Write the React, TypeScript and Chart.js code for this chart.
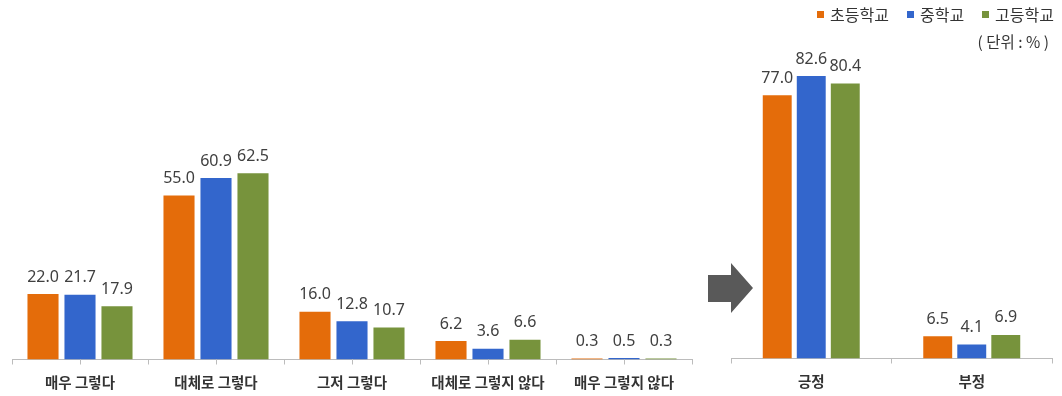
import React, { useEffect, useRef } from "react";
import { Chart, registerables } from "chart.js";

Chart.register(...registerables);

const leftCategories = ["매우 그렇다", "대체로 그렇다", "그저 그렇다", "대체로 그렇지 않다", "매우 그렇지 않다"];
const leftElementary = [22.0, 55.0, 16.0, 6.2, 0.3];
const leftMiddle = [21.7, 60.9, 12.8, 3.6, 0.5];
const leftHigh = [17.9, 62.5, 10.7, 6.6, 0.3];

const rightCategories = ["긍정", "부정"];
const rightElementary = [77.0, 6.5];
const rightMiddle = [82.6, 4.1];
const rightHigh = [80.4, 6.9];

const seriesNames = ["초등학교", "중학교", "고등학교"];
const seriesColors = ["#E46C0A", "#3366CC", "#77933C"];
const unitLabel = "( 단위 : % )";

const FONT = "'Noto Sans CJK KR', 'Noto Sans', sans-serif";
const AXIS_COLOR = "#bcbcbc";

const valueLabels = {
  id: "valueLabels",
  afterDatasetsDraw(chart: any) {
    const ctx = chart.ctx;
    ctx.save();
    ctx.font = `16px 'Noto Sans', ${FONT}`;
    ctx.fillStyle = "#404040";
    ctx.textAlign = "center";
    ctx.textBaseline = "middle";
    chart.data.datasets.forEach((ds: any, i: number) => {
      const meta = chart.getDatasetMeta(i);
      meta.data.forEach((el: any, j: number) => {
        const v = ds.data[j] as number;
        ctx.fillText(v.toFixed(1), el.x, el.y - 17);
      });
    });
    ctx.restore();
  },
};

const centerTicks = {
  id: "centerTicks",
  afterDraw(chart: any) {
    const x = chart.scales.x;
    const ctx = chart.ctx;
    ctx.save();
    ctx.strokeStyle = AXIS_COLOR;
    ctx.lineWidth = 1;
    for (let i = 0; i < x.ticks.length; i++) {
      const px = Math.round(x.getPixelForTick(i)) + 0.5;
      ctx.beginPath();
      ctx.moveTo(px, x.top);
      ctx.lineTo(px, x.top + 5);
      ctx.stroke();
    }
    ctx.restore();
  },
};

function makeConfig(
  categories: string[],
  series: number[][],
  padding: { left: number; right: number; top: number; bottom: number },
  catPct: number,
  barPct: number,
  extraPlugins: any[]
): any {
  return {
    type: "bar",
    data: {
      labels: categories,
      datasets: series.map((d, i) => ({
        label: seriesNames[i],
        data: d,
        backgroundColor: seriesColors[i],
        borderWidth: 0,
        categoryPercentage: catPct,
        barPercentage: barPct,
      })),
    },
    options: {
      responsive: false,
      animation: false,
      devicePixelRatio: 1,
      layout: { padding },
      plugins: {
        legend: { display: false },
        title: { display: false },
        tooltip: { enabled: false },
      },
      scales: {
        x: {
          grid: {
            display: true,
            drawOnChartArea: false,
            offset: true,
            tickLength: 5,
            color: AXIS_COLOR,
          },
          border: { display: true, color: AXIS_COLOR, width: 1 },
          ticks: {
            autoSkip: false,
            maxRotation: 0,
            padding: 11,
            color: "#333333",
            font: { size: 14.5, weight: "bold", family: FONT, lineHeight: 1 },
          },
        },
        y: { display: false, min: 0, max: 100 },
      },
    },
    plugins: [valueLabels, ...extraPlugins],
  };
}

export default function App() {
  const leftRef = useRef<HTMLCanvasElement | null>(null);
  const rightRef = useRef<HTMLCanvasElement | null>(null);

  useEffect(() => {
    const left = new Chart(
      leftRef.current as HTMLCanvasElement,
      makeConfig(
        leftCategories,
        [leftElementary, leftMiddle, leftHigh],
        { left: 12, right: 8, top: 61.5, bottom: 0 },
        0.816,
        0.84,
        [centerTicks]
      )
    );
    const right = new Chart(
      rightRef.current as HTMLCanvasElement,
      makeConfig(
        rightCategories,
        [rightElementary, rightMiddle, rightHigh],
        { left: 31, right: 10, top: 16.5, bottom: 0 },
        0.636,
        0.85,
        []
      )
    );
    return () => {
      left.destroy();
      right.destroy();
    };
  }, []);

  return (
    <div
      style={{
        position: "fixed",
        left: 0,
        top: 0,
        width: 1062,
        height: 396,
        overflow: "hidden",
        background: "#ffffff",
        fontFamily: FONT,
      }}
    >
      <canvas
        ref={leftRef}
        width={700}
        height={401}
        style={{ position: "absolute", left: 0, top: 0, width: 700, height: 401 }}
      />
      <canvas
        ref={rightRef}
        width={362}
        height={400}
        style={{ position: "absolute", left: 700, top: 0, width: 362, height: 400 }}
      />
      <svg
        width={60}
        height={60}
        style={{ position: "absolute", left: 700, top: 257 }}
      >
        <polygon points="8,18 31,18 31,6 53,31 31,56 31,45 8,45" fill="#595959" />
      </svg>
      <div
        style={{
          position: "absolute",
          right: 8,
          top: 4,
          display: "flex",
          alignItems: "center",
          fontSize: 16,
          color: "#333333",
          lineHeight: "20px",
          whiteSpace: "nowrap",
        }}
      >
        {seriesNames.map((name, i) => (
          <span
            key={name}
            style={{ display: "flex", alignItems: "center", marginLeft: i === 0 ? 0 : 18 }}
          >
            <span
              style={{
                display: "inline-block",
                width: 7,
                height: 7,
                background: seriesColors[i],
                marginRight: 6,
              }}
            />
            {name}
          </span>
        ))}
      </div>
      <div
        style={{
          position: "absolute",
          right: 13,
          top: 31,
          fontSize: 15.5,
          color: "#333333",
          lineHeight: "20px",
          whiteSpace: "pre",
        }}
      >
        {unitLabel}
      </div>
    </div>
  );
}
